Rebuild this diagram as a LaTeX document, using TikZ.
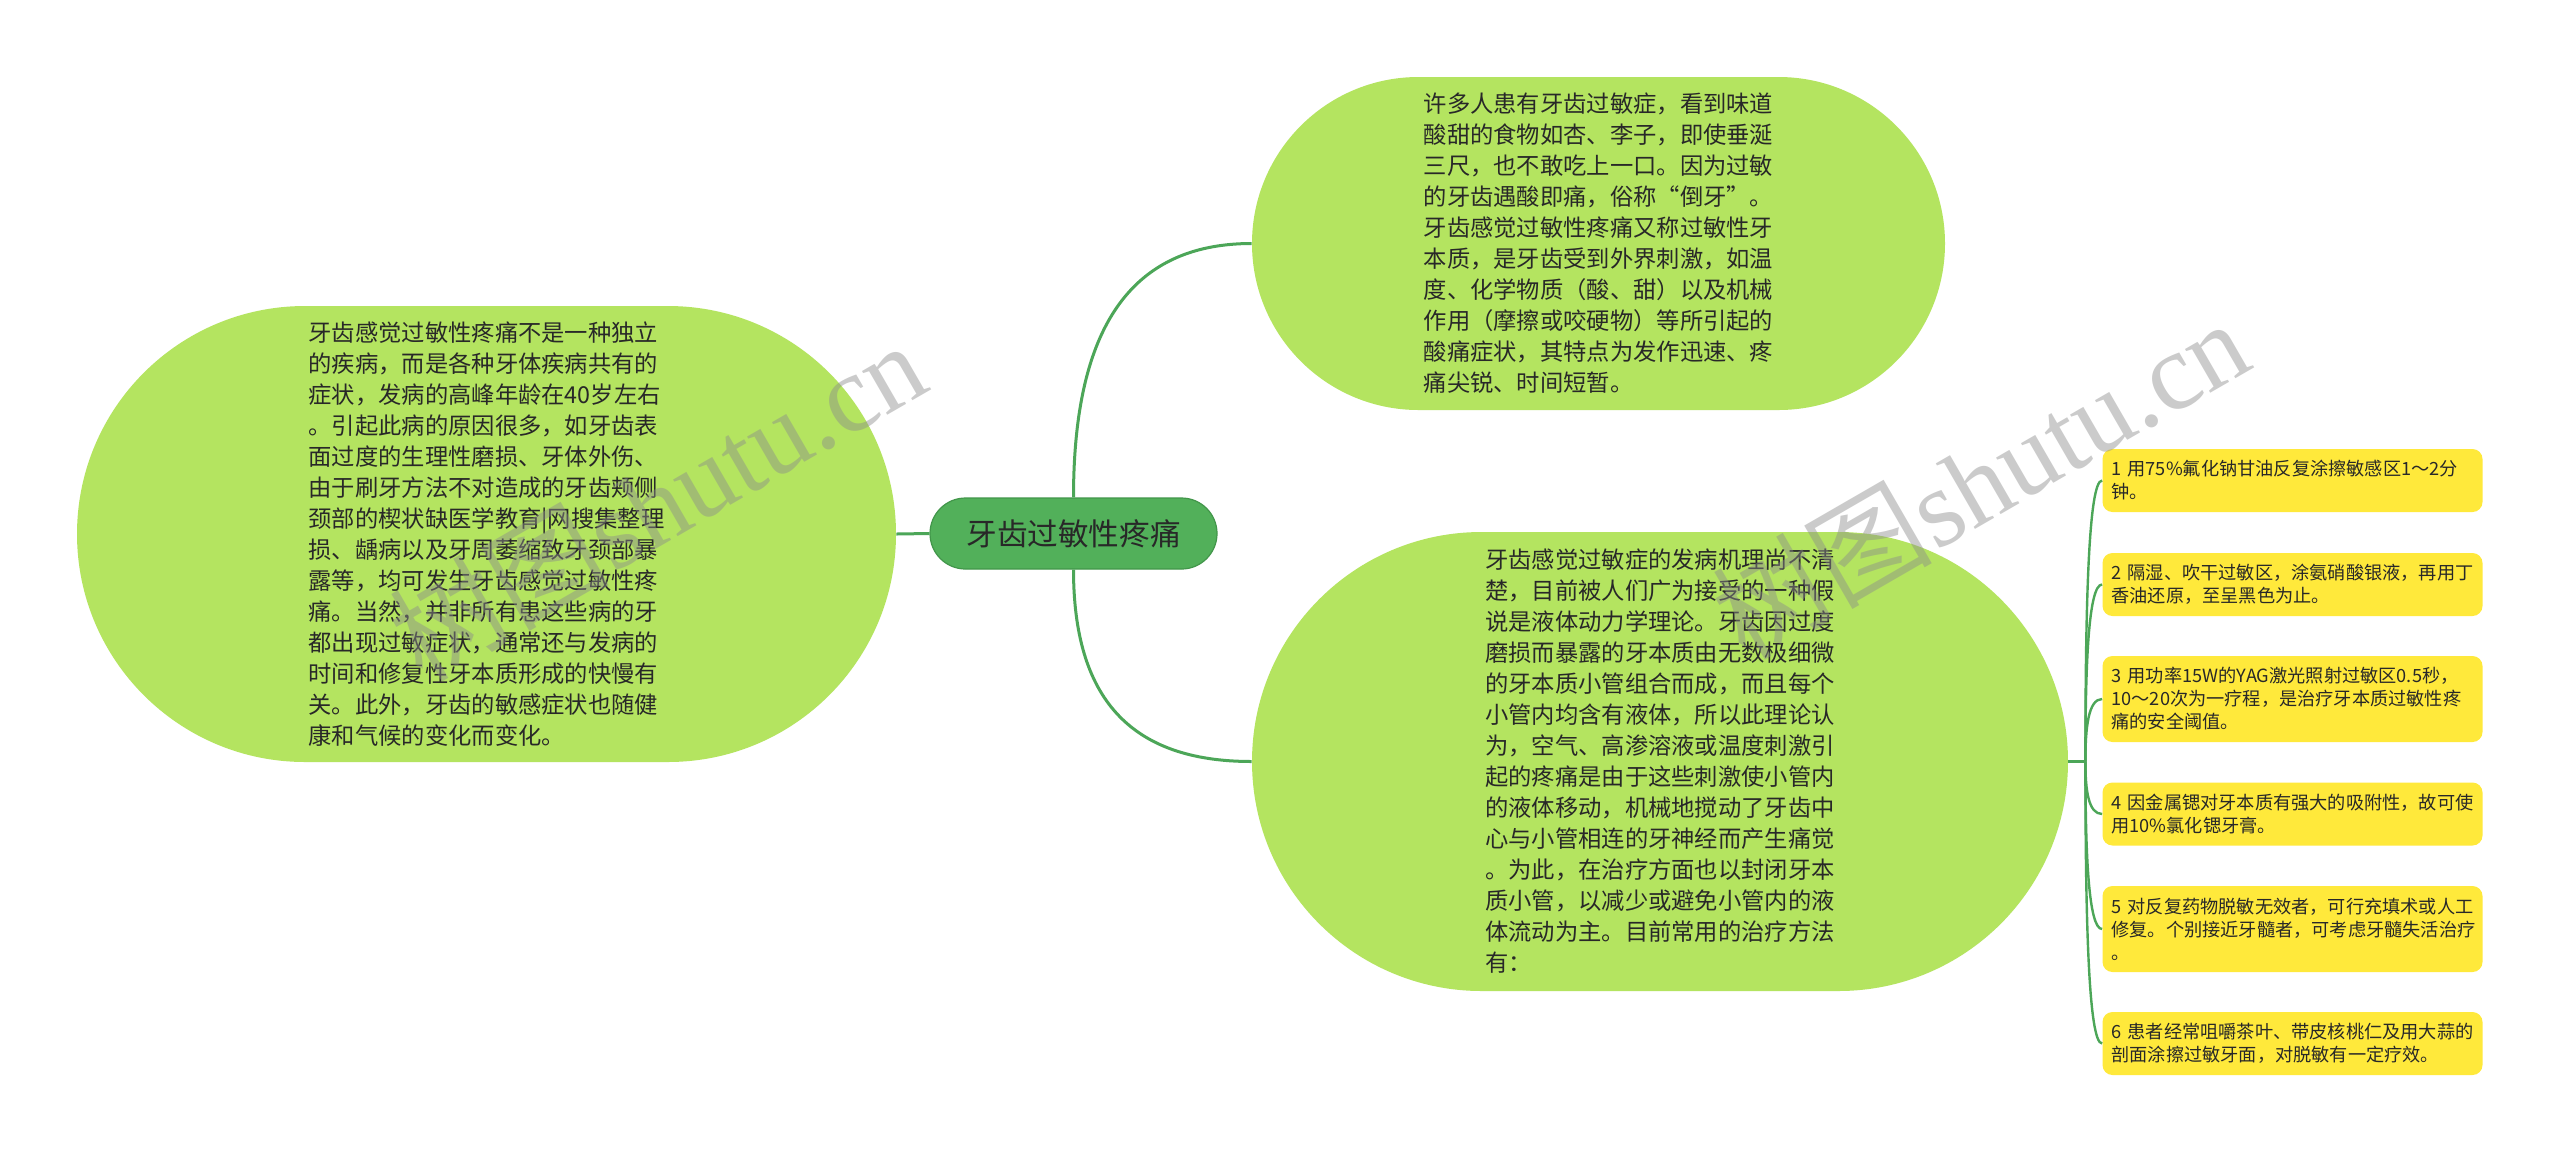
\documentclass[tikz,border=0pt]{standalone}
\usepackage{fontspec}
\setmainfont{Noto Sans CJK SC}
\newfontfamily\wmserif{Liberation Serif}
\usetikzlibrary{shapes.misc,calc}
\definecolor{bignode}{RGB}{180,228,96}
\definecolor{rootfill}{RGB}{82,176,90}
\definecolor{rootedge}{RGB}{66,150,74}
\definecolor{linkc}{RGB}{76,166,88}
\definecolor{leafy}{RGB}{255,233,59}
\definecolor{txt}{RGB}{40,40,40}
\begin{document}
\begin{tikzpicture}[x=0.5pt,y=-0.5pt,
  bigbox/.style={rounded rectangle, fill=bignode, text=txt, align=left, inner sep=0pt,
    font=\fontsize{11.65pt}{15.5pt}\selectfont},
  rootbox/.style={rounded rectangle, fill=rootfill, draw=rootedge, line width=0.6pt, text=txt,
    font=\fontsize{15.3pt}{18pt}\selectfont, minimum width=143.5pt, minimum height=35.5pt, inner sep=0pt},
  leafbox/.style={rectangle, rounded corners=5pt, fill=leafy, text=txt, align=left,
    text width=181pt, inner xsep=4.5pt, inner ysep=0pt, font=\fontsize{9.1pt}{11.5pt}\selectfont},
  link/.style={draw=linkc, line width=1.5pt},
  sublink/.style={draw=linkc, line width=1.2pt},
  wm/.style={text=black!45, text opacity=0.45, rotate=30, inner sep=0pt,
    font=\fontsize{55pt}{60pt}\selectfont}
]
\fill[white] (0,0) rectangle (2560,1153);
\useasboundingbox (0,0) rectangle (2560,1153);

% central node
\node[rootbox] (root) at (1073.5,533.5) {牙齿过敏性疼痛};

% left node
\node[bigbox, minimum width=409.5pt, minimum height=228pt] (left) at (486.5,534) {%
牙齿感觉过敏性疼痛不是一种独立\\
的疾病，而是各种牙体疾病共有的\\
症状，发病的高峰年龄在40岁左右\\
。引起此病的原因很多，如牙齿表\\
面过度的生理性磨损、牙体外伤、\\
由于刷牙方法不对造成的牙齿颊侧\\
颈部的楔状缺医学教育|网搜集整理\\
损、龋病以及牙周萎缩致牙颈部暴\\
露等，均可发生牙齿感觉过敏性疼\\
痛。当然，并非所有患这些病的牙\\
都出现过敏症状，通常还与发病的\\
时间和修复性牙本质形成的快慢有\\
关。此外，牙齿的敏感症状也随健\\
康和气候的变化而变化。};

% top right node
\node[bigbox, minimum width=346.5pt, minimum height=166.5pt] (tr) at (1598.5,243.5) {%
许多人患有牙齿过敏症，看到味道\\
酸甜的食物如杏、李子，即使垂涎\\
三尺，也不敢吃上一口。因为过敏\\
的牙齿遇酸即痛，俗称“倒牙”。\\
牙齿感觉过敏性疼痛又称过敏性牙\\
本质，是牙齿受到外界刺激，如温\\
度、化学物质（酸、甜）以及机械\\
作用（摩擦或咬硬物）等所引起的\\
酸痛症状，其特点为发作迅速、疼\\
痛尖锐、时间短暂。};

% bottom right node
\node[bigbox, minimum width=408pt, minimum height=229.5pt] (br) at (1660,761.5) {%
牙齿感觉过敏症的发病机理尚不清\\
楚，目前被人们广为接受的一种假\\
说是液体动力学理论。牙齿因过度\\
磨损而暴露的牙本质由无数极细微\\
的牙本质小管组合而成，而且每个\\
小管内均含有液体，所以此理论认\\
为，空气、高渗溶液或温度刺激引\\
起的疼痛是由于这些刺激使小管内\\
的液体移动，机械地搅动了牙齿中\\
心与小管相连的牙神经而产生痛觉\\
。为此，在治疗方面也以封闭牙本\\
质小管，以减少或避免小管内的液\\
体流动为主。目前常用的治疗方法\\
有：};

% leaf boxes
\node[leafbox, minimum height=31.5pt] (l1) at (2292.5,480.5) {1~用75\%氟化钠甘油反复涂擦敏感区1～2分\\钟。};
\node[leafbox, minimum height=31.5pt] (l2) at (2292.5,584.5) {2~隔湿、吹干过敏区，涂氨硝酸银液，再用丁\\香油还原，至呈黑色为止。};
\node[leafbox, minimum height=43pt] (l3) at (2292.5,699) {3~用功率15W的YAG激光照射过敏区0.5秒，\\10～20次为一疗程，是治疗牙本质过敏性疼\\痛的安全阈值。};
\node[leafbox, minimum height=31.5pt] (l4) at (2292.5,814) {4~因金属锶对牙本质有强大的吸附性，故可使\\用10\%氯化锶牙膏。};
\node[leafbox, minimum height=43pt] (l5) at (2292.5,929) {5~对反复药物脱敏无效者，可行充填术或人工\\修复。个别接近牙髓者，可考虑牙髓失活治疗\\。};
\node[leafbox, minimum height=31.5pt] (l6) at (2292.5,1043.5) {6~患者经常咀嚼茶叶、带皮核桃仁及用大蒜的\\剖面涂擦过敏牙面，对脱敏有一定疗效。};

% connectors
\draw[link] (root.west) -- (left.east);
\draw[link] (root.north) .. controls ($(root.north)+(0,-168)$) and ($(tr.west)+(-122,0)$) .. (tr.west);
\draw[link] (root.south) .. controls ($(root.south)+(0,128)$) and ($(br.west)+(-122,0)$) .. (br.west);

\coordinate (hub) at ($(br.east)+(17,0)$);
\draw[sublink] (br.east) -- (hub);
\foreach \k in {1,...,6}{
  \coordinate (f\k) at (hub |- l\k.west);
  \draw[sublink] (hub) .. controls ($(hub)!0.55!(f\k)$) and ($(f\k)+(3,0)$) .. (l\k.west);
}

% watermarks
\node[wm] (wm1) at (657,500) {树图{\wmserif shutu.cn}};
\node[wm] (wm2) at (1980,478) {树图{\wmserif shutu.cn}};
\end{tikzpicture}
\end{document}
